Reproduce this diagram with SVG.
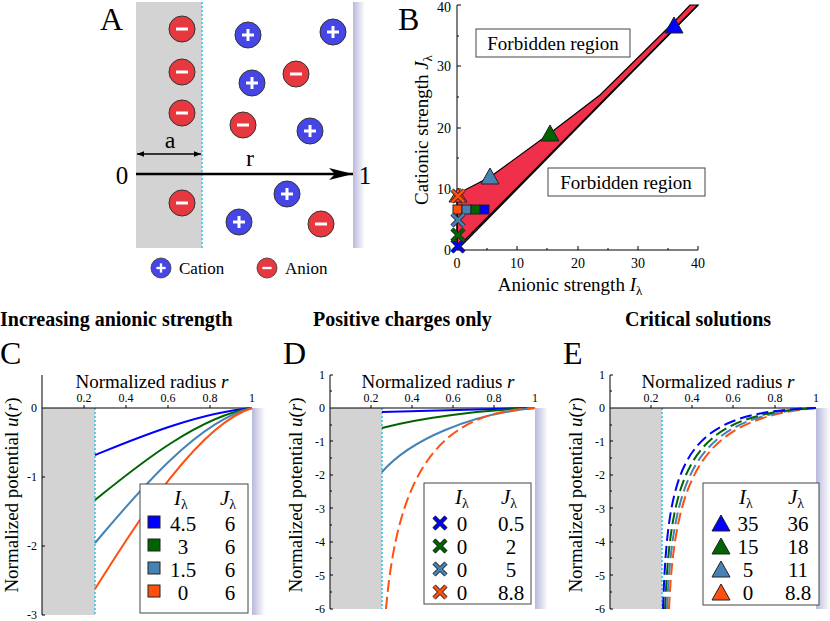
<svg xmlns="http://www.w3.org/2000/svg" width="830" height="621" viewBox="0 0 830 621" font-family="'Liberation Serif', 'Times New Roman', serif">
<style>
svg, text, tspan{font-family:"Liberation Serif", "Times New Roman", serif}
text{fill:#000}
.tk{font-size:12px}
.lab{font-size:19px}
.big{font-size:32px}
.ttl{font-size:20px;font-weight:bold}
.lg{font-size:21px}
.ax{stroke:#000;stroke-width:1;fill:none}
.dot{stroke:#2bc4f0;stroke-width:1.5;stroke-dasharray:2,2}
.an{fill:#e8383f;stroke:#333;stroke-width:1}
.ca{fill:#4646e6;stroke:#333;stroke-width:1}
.sym{stroke:#fff;stroke-width:3;stroke-linecap:butt}
.c{fill:none;stroke-width:2}
.d{fill:none;stroke-width:2;stroke-dasharray:12,5}
.box{fill:#fff;stroke:#444;stroke-width:1}
</style>
<defs>
<linearGradient id="lav" x1="0" x2="1" y1="0" y2="0"><stop offset="0" stop-color="#b8b8dc"/><stop offset="1" stop-color="#fff"/></linearGradient>
<marker id="ah" viewBox="0 0 10 10" refX="10" refY="5" markerWidth="7" markerHeight="7" orient="auto-start-reverse" markerUnits="userSpaceOnUse"><path d="M0,1 L10,5 L0,9 z" fill="#000"/></marker>
<marker id="ah2" viewBox="0 0 20 10" refX="20" refY="5" markerWidth="24" markerHeight="12" orient="auto" markerUnits="userSpaceOnUse"><path d="M0,0 L20,5 L0,10 L5,5 z" fill="#000"/></marker>
<g id="an"><circle r="13" class="an"/><line x1="-6" x2="6" class="sym"/></g>
<g id="ca"><circle r="13" class="ca"/><line x1="-6" x2="6" class="sym"/><line y1="-6" y2="6" class="sym"/></g>
<g id="x"><path d="M-6,-6 L6,6 M-6,6 L6,-6" stroke="#222" stroke-width="4.5"/><path d="M-6,-6 L6,6 M-6,6 L6,-6" stroke-width="2.8" stroke="inherit"/></g>
</defs>

<g id="panelA">
<text x="100" y="30" class="big">A</text>
<rect x="136" y="2" width="66" height="246" fill="#d3d3d3"/>
<line x1="202" y1="2" x2="202" y2="248" class="dot"/>
<rect x="353" y="2" width="12" height="246" fill="url(#lav)"/>
<use href="#an" x="182" y="29"/><use href="#an" x="182" y="72"/><use href="#an" x="182" y="113"/>
<use href="#an" x="243" y="125"/><use href="#an" x="296" y="74"/><use href="#an" x="321" y="224"/><use href="#an" x="182" y="203"/>
<use href="#ca" x="248" y="35"/><use href="#ca" x="333" y="32"/><use href="#ca" x="252" y="83"/>
<use href="#ca" x="310" y="131"/><use href="#ca" x="287" y="194"/><use href="#ca" x="239" y="222"/>
<line x1="136" y1="174" x2="353" y2="174" stroke="#000" stroke-width="2.5" marker-end="url(#ah2)"/>
<line x1="137" y1="154" x2="201" y2="154" stroke="#000" stroke-width="1.5" marker-start="url(#ah)" marker-end="url(#ah)"/>
<text x="170" y="148" text-anchor="middle" style="font-size:24px">a</text>
<text x="250" y="166" text-anchor="middle" style="font-size:24px">r</text>
<text x="122" y="184" text-anchor="middle" style="font-size:25px">0</text>
<text x="365" y="184" text-anchor="middle" style="font-size:25px">1</text>
<g transform="translate(161,268) scale(0.77)"><use href="#ca"/></g>
<text x="179" y="274" style="font-size:17px">Cation</text>
<g transform="translate(267,268) scale(0.77)"><use href="#an"/></g>
<text x="285" y="274" style="font-size:17px">Anion</text>
</g>

<g id="panelB">
<text x="398" y="30" class="big">B</text>
<path d="M457,248 L698,5 L690,5 L674,22 L600,95 L549,134 L490,177 L457,194 Z" fill="#f0304a" stroke="#000" stroke-width="1.2"/>
<line x1="457" y1="250" x2="698" y2="5" stroke="#000" stroke-width="1.5"/>
<path class="ax" d="M457,5 V250 H698"/>
<path class="ax" d="M457,189 h4 M457,128 h4 M457,66 h4 M457,5 h4 M517,250 v-4 M578,250 v-4 M638,250 v-4 M698,250 v-4 M457,219 h2 M457,158 h2 M457,97 h2 M457,36 h2 M487,250 v-2 M547,250 v-2 M608,250 v-2 M668,250 v-2"/>
<g text-anchor="end">
<text x="451" y="255" style="font-size:14px">0</text><text x="451" y="194" style="font-size:14px">10</text><text x="451" y="133" style="font-size:14px">20</text><text x="451" y="71" style="font-size:14px">30</text><text x="451" y="12" style="font-size:14px">40</text>
</g>
<g text-anchor="middle">
<text x="457" y="268" style="font-size:14px">0</text><text x="517" y="268" style="font-size:14px">10</text><text x="578" y="268" style="font-size:14px">20</text><text x="638" y="268" style="font-size:14px">30</text><text x="698" y="268" style="font-size:14px">40</text>
</g>
<text x="570" y="291" text-anchor="middle" class="lab">Anionic strength <tspan font-style="italic">I</tspan><tspan dy="4" style="font-size:13px">λ</tspan></text>
<text transform="translate(428,130) rotate(-90)" text-anchor="middle" class="lab">Cationic strength <tspan font-style="italic">J</tspan><tspan dy="4" style="font-size:13px">λ</tspan></text>
<rect x="476" y="29" width="154" height="28" class="box"/>
<text x="553" y="50" text-anchor="middle" class="lab">Forbidden region</text>
<rect x="548" y="168" width="157" height="28" class="box"/>
<text x="626" y="189" text-anchor="middle" class="lab">Forbidden region</text>
<path d="M674,17 L683,33 L665,33 Z" fill="#0000ff" stroke="#222"/>
<path d="M550,125 L559,141 L541,141 Z" fill="#006400" stroke="#222"/>
<path d="M490,168 L499,184 L481,184 Z" fill="#4682b4" stroke="#222"/>
<path d="M458,188 L467,202 L449,202 Z" fill="#ff5010" stroke="#222"/>
<rect x="453" y="205" width="9" height="9" fill="#ff5010" stroke="#222"/>
<rect x="462" y="205" width="9" height="9" fill="#4682b4" stroke="#222"/>
<rect x="471" y="205" width="9" height="9" fill="#006400" stroke="#222"/>
<rect x="480" y="205" width="9" height="9" fill="#0000ff" stroke="#222"/>
<use href="#x" x="458" y="246" stroke="#0000ff"/>
<use href="#x" x="458" y="235" stroke="#006400"/>
<use href="#x" x="458" y="220" stroke="#4682b4"/>
<use href="#x" x="458" y="196" stroke="#ff5010"/>
</g>

<g id="panelC">
<text x="0" y="326" class="ttl">Increasing anionic strength</text>
<text x="0" y="364" class="big">C</text>
<rect x="42" y="408" width="53" height="207" fill="#d3d3d3"/>
<rect x="252" y="408" width="13" height="207" fill="url(#lav)"/>
<line x1="95" y1="408" x2="95" y2="615" class="dot"/>
<path class="ax" d="M42,375 V615 M42,408 H252 M84,408 v-3 M126,408 v-3 M168,408 v-3 M210,408 v-3 M42,477 h3 M42,546 h3 M42,615 h3"/>
<g text-anchor="middle"><text x="84" y="402" class="tk">0.2</text><text x="126" y="402" class="tk">0.4</text><text x="168" y="402" class="tk">0.6</text><text x="210" y="402" class="tk">0.8</text><text x="252" y="402" class="tk">1</text></g>
<g text-anchor="end"><text x="37" y="412" class="tk">0</text><text x="37" y="481" class="tk">-1</text><text x="37" y="550" class="tk">-2</text><text x="37" y="619" class="tk">-3</text></g>
<text x="152" y="388" text-anchor="middle" class="lab">Normalized radius <tspan font-style="italic">r</tspan></text>
<text transform="translate(18,495) rotate(-90)" text-anchor="middle" class="lab">Normalized potential <tspan font-style="italic">u</tspan>(<tspan font-style="italic">r</tspan>)</text>
<path class="c" stroke="#0000ff" d="M95,455 C130,441 195,413 252,408"/>
<path class="c" stroke="#006400" d="M95,500 C130,472 195,417 252,408"/>
<path class="c" stroke="#4682b4" d="M95,543 C130,502 195,421 252,408"/>
<path class="c" stroke="#ff5010" d="M95,589 C130,534 195,426 252,408"/>
<rect x="140" y="484" width="108" height="129" class="box"/>
<text x="181" y="505" text-anchor="middle" class="lg"><tspan font-style="italic">I</tspan><tspan dy="4" style="font-size:14px">λ</tspan></text>
<text x="228" y="505" text-anchor="middle" class="lg"><tspan font-style="italic">J</tspan><tspan dy="4" style="font-size:14px">λ</tspan></text>
<rect x="148" y="516" width="12" height="12" fill="#0000ff" stroke="#222"/>
<rect x="148" y="539" width="12" height="12" fill="#006400" stroke="#222"/>
<rect x="148" y="562" width="12" height="12" fill="#4682b4" stroke="#222"/>
<rect x="148" y="585" width="12" height="12" fill="#ff5010" stroke="#222"/>
<g text-anchor="middle">
<text x="183" y="531" class="lg">4.5</text><text x="230" y="531" class="lg">6</text>
<text x="183" y="554" class="lg">3</text><text x="230" y="554" class="lg">6</text>
<text x="183" y="577" class="lg">1.5</text><text x="230" y="577" class="lg">6</text>
<text x="183" y="600" class="lg">0</text><text x="230" y="600" class="lg">6</text>
</g>
</g>

<g id="panelD">
<text x="313" y="326" class="ttl">Positive charges only</text>
<text x="283" y="364" class="big">D</text>
<rect x="330" y="408" width="52" height="201" fill="#d3d3d3"/>
<rect x="535" y="408" width="13" height="201" fill="url(#lav)"/>
<line x1="382" y1="408" x2="382" y2="609" class="dot"/>
<path class="ax" d="M330,375 V609 M330,408 H535 M371,408 v-3 M412,408 v-3 M453,408 v-3 M494,408 v-3 M330,375 h3 M330,441 h3 M330,475 h3 M330,508 h3 M330,542 h3 M330,575 h3 M330,609 h3 M330,391 h2 M330,425 h2 M330,458 h2 M330,491 h2 M330,525 h2 M330,558 h2 M330,592 h2"/>
<g text-anchor="middle"><text x="371" y="402" class="tk">0.2</text><text x="412" y="402" class="tk">0.4</text><text x="453" y="402" class="tk">0.6</text><text x="494" y="402" class="tk">0.8</text><text x="535" y="402" class="tk">1</text></g>
<g text-anchor="end"><text x="325" y="379" class="tk">1</text><text x="325" y="412" class="tk">0</text><text x="325" y="446" class="tk">-1</text><text x="325" y="479" class="tk">-2</text><text x="325" y="513" class="tk">-3</text><text x="325" y="546" class="tk">-4</text><text x="325" y="580" class="tk">-5</text><text x="325" y="613" class="tk">-6</text></g>
<text x="438" y="388" text-anchor="middle" class="lab">Normalized radius <tspan font-style="italic">r</tspan></text>
<text transform="translate(302,495) rotate(-90)" text-anchor="middle" class="lab">Normalized potential <tspan font-style="italic">u</tspan>(<tspan font-style="italic">r</tspan>)</text>
<path class="c" stroke="#0000ff" d="M382,412 C420,411 480,409 535,408"/>
<path class="c" stroke="#006400" d="M382,428 C420,418 480,410 535,408"/>
<path class="c" stroke="#4682b4" d="M382,472 C410,440 470,414 535,408"/>
<path class="d" stroke="#ff5010" d="M386,609 C398,470 440,412 535,408"/>
<rect x="424" y="483" width="107" height="121" class="box"/>
<text x="462" y="504" text-anchor="middle" class="lg"><tspan font-style="italic">I</tspan><tspan dy="4" style="font-size:14px">λ</tspan></text>
<text x="509" y="504" text-anchor="middle" class="lg"><tspan font-style="italic">J</tspan><tspan dy="4" style="font-size:14px">λ</tspan></text>
<use href="#x" x="440" y="523" stroke="#0000ff"/>
<use href="#x" x="440" y="546" stroke="#006400"/>
<use href="#x" x="440" y="569" stroke="#4682b4"/>
<use href="#x" x="440" y="592" stroke="#ff5010"/>
<g text-anchor="middle">
<text x="462" y="531" class="lg">0</text><text x="511" y="531" class="lg">0.5</text>
<text x="462" y="554" class="lg">0</text><text x="511" y="554" class="lg">2</text>
<text x="462" y="577" class="lg">0</text><text x="511" y="577" class="lg">5</text>
<text x="462" y="600" class="lg">0</text><text x="511" y="600" class="lg">8.8</text>
</g>
</g>

<g id="panelE">
<text x="698" y="326" text-anchor="middle" class="ttl">Critical solutions</text>
<text x="563" y="364" class="big">E</text>
<rect x="610" y="408" width="52" height="201" fill="#d3d3d3"/>
<rect x="816" y="408" width="14" height="201" fill="url(#lav)"/>
<line x1="662" y1="408" x2="662" y2="609" class="dot"/>
<path class="ax" d="M610,375 V609 M610,408 H816 M651,408 v-3 M692,408 v-3 M733,408 v-3 M775,408 v-3 M610,375 h3 M610,441 h3 M610,475 h3 M610,508 h3 M610,542 h3 M610,575 h3 M610,609 h3 M610,391 h2 M610,425 h2 M610,458 h2 M610,491 h2 M610,525 h2 M610,558 h2 M610,592 h2"/>
<g text-anchor="middle"><text x="651" y="402" class="tk">0.2</text><text x="692" y="402" class="tk">0.4</text><text x="733" y="402" class="tk">0.6</text><text x="775" y="402" class="tk">0.8</text><text x="816" y="402" class="tk">1</text></g>
<g text-anchor="end"><text x="605" y="379" class="tk">1</text><text x="605" y="412" class="tk">0</text><text x="605" y="446" class="tk">-1</text><text x="605" y="479" class="tk">-2</text><text x="605" y="513" class="tk">-3</text><text x="605" y="546" class="tk">-4</text><text x="605" y="580" class="tk">-5</text><text x="605" y="613" class="tk">-6</text></g>
<text x="718" y="388" text-anchor="middle" class="lab">Normalized radius <tspan font-style="italic">r</tspan></text>
<text transform="translate(582,495) rotate(-90)" text-anchor="middle" class="lab">Normalized potential <tspan font-style="italic">u</tspan>(<tspan font-style="italic">r</tspan>)</text>
<path class="d" stroke="#ff5010" d="M669,609 C675,470 705,418 816,408"/>
<path class="d" stroke="#4682b4" d="M667,609 C673,466 700,416 816,408"/>
<path class="d" stroke="#006400" d="M665,609 C671,462 693,414 816,408"/>
<path class="d" stroke="#0000ff" d="M663,609 C668,455 685,412 816,408"/>
<rect x="703" y="483" width="116" height="122" class="box"/>
<text x="746" y="504" text-anchor="middle" class="lg"><tspan font-style="italic">I</tspan><tspan dy="4" style="font-size:14px">λ</tspan></text>
<text x="796" y="504" text-anchor="middle" class="lg"><tspan font-style="italic">J</tspan><tspan dy="4" style="font-size:14px">λ</tspan></text>
<path d="M721,515 L730,531 L712,531 Z" fill="#0000ff" stroke="#222"/>
<path d="M721,538 L730,554 L712,554 Z" fill="#006400" stroke="#222"/>
<path d="M721,561 L730,577 L712,577 Z" fill="#4682b4" stroke="#222"/>
<path d="M721,584 L730,600 L712,600 Z" fill="#ff5010" stroke="#222"/>
<g text-anchor="middle">
<text x="748" y="531" class="lg">35</text><text x="798" y="531" class="lg">36</text>
<text x="748" y="554" class="lg">15</text><text x="798" y="554" class="lg">18</text>
<text x="748" y="577" class="lg">5</text><text x="798" y="577" class="lg">11</text>
<text x="748" y="600" class="lg">0</text><text x="798" y="600" class="lg">8.8</text>
</g>
</g>
</svg>
